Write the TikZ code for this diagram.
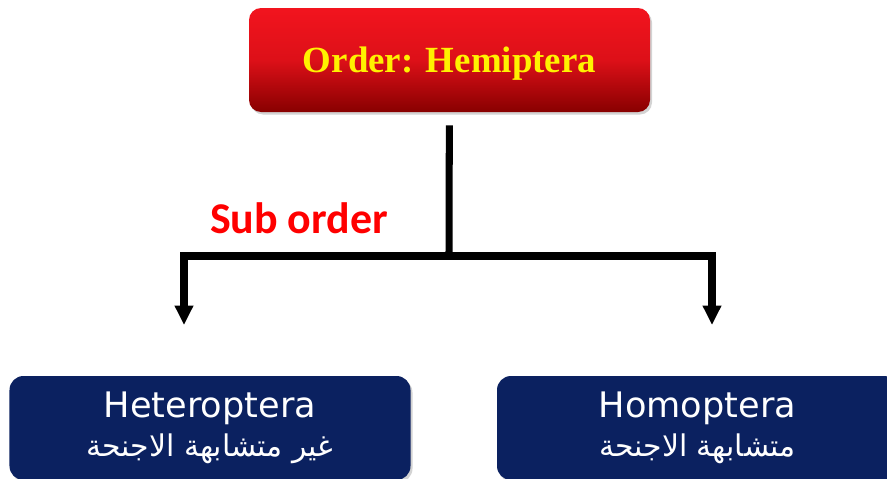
\documentclass[tikz,border=0pt]{standalone}
\usepackage{fontspec}
\usepackage{tikz}
\usetikzlibrary{arrows.meta,shadows}
\TeXXeTstate=1
\newfontfamily\titlefont{Liberation Serif}
\newfontfamily\labelfont{Carlito}
\newfontfamily\boxfont{DejaVu Sans}
\newfontfamily\arabicfont[Script=Arabic]{DejaVu Sans}
\definecolor{orderred}{HTML}{F2141E}
\definecolor{orderdark}{HTML}{880000}
\definecolor{subnavy}{HTML}{0B2160}

\begin{document}
\begin{tikzpicture}
    % Define styles
    \tikzstyle{order} = [rectangle, rounded corners=0.24cm, minimum width=8.02cm, minimum height=2.08cm, text centered, text depth=0pt, top color=orderred, bottom color=orderdark, middle color=orderred!80!orderdark, drop shadow={opacity=0.35, shadow xshift=0.04cm, shadow yshift=-0.05cm}, text=yellow, font=\titlefont\bfseries\fontsize{21}{24}\selectfont]
    \tikzstyle{suborder} = [rectangle, rounded corners=0.28cm, minimum width=8.02cm, minimum height=2.08cm, align=center, fill=subnavy, drop shadow={opacity=0.35, shadow xshift=0.04cm, shadow yshift=-0.05cm}, text=white, font=\boxfont\fontsize{20}{22}\selectfont]
    \tikzstyle{stem} = [line width=4pt]
    \tikzstyle{arrow} = [line width=4pt, -{Triangle[width=10pt, length=11pt]}]

    \useasboundingbox (0,0) rectangle (17.74,-9.58);
    \clip (0,0) rectangle (17.74,-9.58);

    % Nodes
    \node (order) [order] at (8.99,-1.2) {Order: Hemiptera};
    \node (hetero) [suborder] at (4.2,-8.56) {Heteroptera\\{\arabicfont\fontsize{17}{20}\selectfont\beginR غير متشابهة الاجنحة\endR}};
    \node (homo) [suborder] at (13.95,-8.56) {Homoptera\\{\arabicfont\fontsize{17}{20}\selectfont\beginR متشابهة الاجنحة\endR}};
    \node (sublabel) [text=red, font=\labelfont\bfseries\fontsize{25}{28}\selectfont] at (5.98,-4.36) {Sub order};

    % Branch points
    \coordinate (split) at (8.98,-5.12);
    \coordinate (lefttip) at (3.68,-6.5);
    \coordinate (righttip) at (14.24,-6.5);

    % Arrows
    \draw [stem, shorten <=0.26cm] (order) -- (split);
    \draw [arrow] (split) -| (lefttip);
    \draw [arrow] (split) -| (righttip);
\end{tikzpicture}
\end{document}
